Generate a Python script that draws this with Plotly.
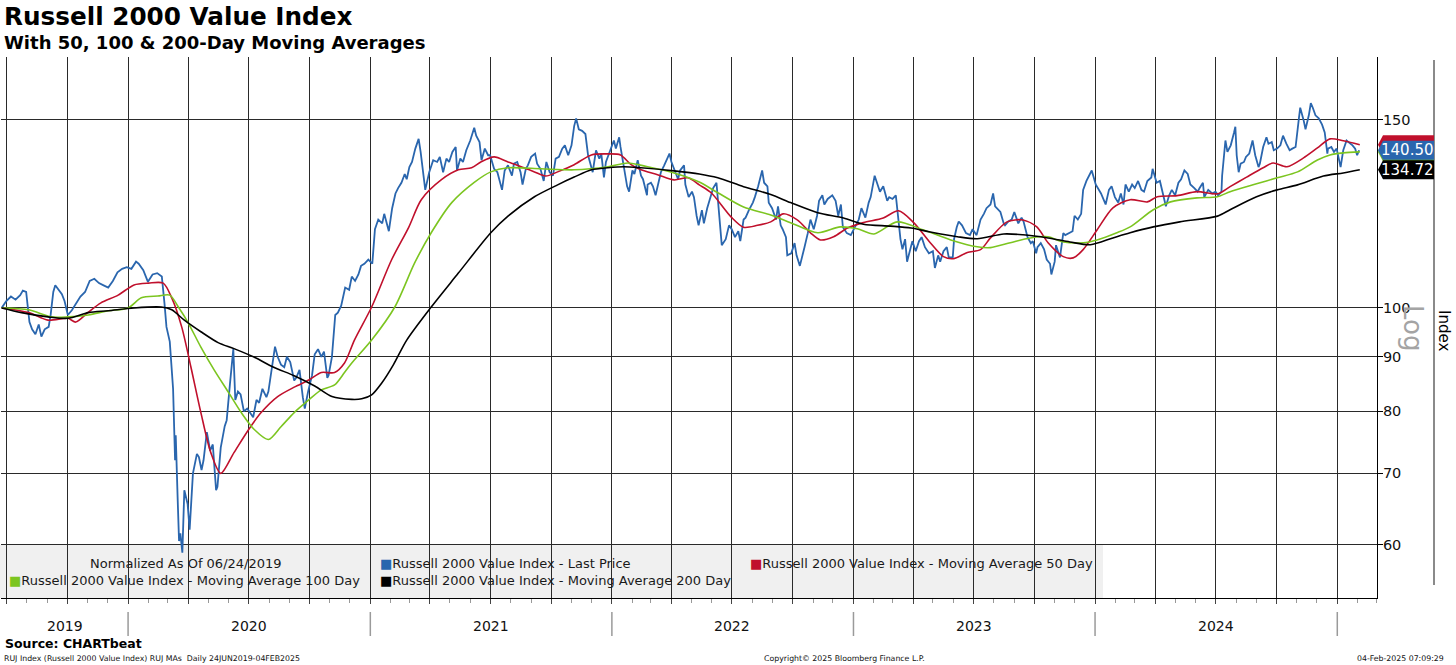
import math
import pandas as pd
import plotly.graph_objects as go

# ---------------- data (normalized to 100 on 06/24/2019) ----------------
price_dates = [
    "2019-06-24", "2019-07-01", "2019-07-08", "2019-07-15", "2019-07-22", "2019-07-26", "2019-07-31",
    "2019-08-05", "2019-08-09", "2019-08-14", "2019-08-19", "2019-08-23", "2019-08-28", "2019-09-03",
    "2019-09-06", "2019-09-10", "2019-09-13", "2019-09-18", "2019-09-23", "2019-09-27", "2019-10-02",
    "2019-10-08", "2019-10-14", "2019-10-21", "2019-10-28", "2019-11-04", "2019-11-11", "2019-11-18",
    "2019-11-25", "2019-12-02", "2019-12-09", "2019-12-16", "2019-12-23", "2019-12-30",
    "2020-01-06", "2020-01-13", "2020-01-17", "2020-01-24", "2020-01-31", "2020-02-07", "2020-02-14",
    "2020-02-21", "2020-02-25", "2020-02-28", "2020-03-04", "2020-03-09", "2020-03-12", "2020-03-13",
    "2020-03-16", "2020-03-18", "2020-03-20", "2020-03-23", "2020-03-26", "2020-03-31", "2020-04-03",
    "2020-04-08", "2020-04-14", "2020-04-17", "2020-04-21", "2020-04-24", "2020-04-29", "2020-05-04",
    "2020-05-08", "2020-05-13", "2020-05-15", "2020-05-20", "2020-05-26", "2020-05-29", "2020-06-03",
    "2020-06-08", "2020-06-11", "2020-06-15", "2020-06-19", "2020-06-24", "2020-06-29", "2020-07-02",
    "2020-07-08", "2020-07-13", "2020-07-17", "2020-07-22", "2020-07-28", "2020-07-31", "2020-08-05",
    "2020-08-10", "2020-08-14", "2020-08-19", "2020-08-24", "2020-08-28", "2020-09-02", "2020-09-08",
    "2020-09-11", "2020-09-16", "2020-09-21", "2020-09-24", "2020-09-29", "2020-10-05", "2020-10-09",
    "2020-10-14", "2020-10-19", "2020-10-23", "2020-10-28", "2020-10-30", "2020-11-04", "2020-11-09",
    "2020-11-13", "2020-11-18", "2020-11-24", "2020-11-30", "2020-12-04", "2020-12-09", "2020-12-14",
    "2020-12-18", "2020-12-23", "2020-12-29",
    "2021-01-04", "2021-01-08", "2021-01-13", "2021-01-19", "2021-01-22", "2021-01-27", "2021-01-29",
    "2021-02-03", "2021-02-08", "2021-02-12", "2021-02-17", "2021-02-22", "2021-02-25", "2021-03-01",
    "2021-03-05", "2021-03-10", "2021-03-15", "2021-03-18", "2021-03-23", "2021-03-25", "2021-03-31",
    "2021-04-06", "2021-04-12", "2021-04-16", "2021-04-21", "2021-04-26", "2021-04-30", "2021-05-05",
    "2021-05-10", "2021-05-12", "2021-05-17", "2021-05-21", "2021-05-26", "2021-06-01", "2021-06-07",
    "2021-06-10", "2021-06-15", "2021-06-18", "2021-06-23", "2021-06-28", "2021-07-01", "2021-07-07",
    "2021-07-12", "2021-07-16", "2021-07-19", "2021-07-23", "2021-07-28", "2021-08-03", "2021-08-06",
    "2021-08-11", "2021-08-16", "2021-08-19", "2021-08-24", "2021-08-27", "2021-09-01", "2021-09-07",
    "2021-09-10", "2021-09-15", "2021-09-20", "2021-09-24", "2021-09-29", "2021-10-04", "2021-10-08",
    "2021-10-13", "2021-10-18", "2021-10-22", "2021-10-27", "2021-11-01", "2021-11-05", "2021-11-08",
    "2021-11-12", "2021-11-17", "2021-11-22", "2021-11-26", "2021-11-30", "2021-12-03", "2021-12-08",
    "2021-12-13", "2021-12-16", "2021-12-20", "2021-12-23", "2021-12-29",
    "2022-01-04", "2022-01-07", "2022-01-12", "2022-01-14", "2022-01-19", "2022-01-24", "2022-01-27",
    "2022-02-01", "2022-02-04", "2022-02-09", "2022-02-14", "2022-02-17", "2022-02-23", "2022-02-24",
    "2022-03-01", "2022-03-04", "2022-03-08", "2022-03-11", "2022-03-16", "2022-03-21", "2022-03-25",
    "2022-03-29", "2022-04-01", "2022-04-06", "2022-04-11", "2022-04-14", "2022-04-20", "2022-04-22",
    "2022-04-27", "2022-05-02", "2022-05-05", "2022-05-09", "2022-05-12", "2022-05-17", "2022-05-20",
    "2022-05-25", "2022-05-31", "2022-06-03", "2022-06-08", "2022-06-13", "2022-06-16", "2022-06-22",
    "2022-06-27", "2022-07-01", "2022-07-06", "2022-07-11", "2022-07-14", "2022-07-19", "2022-07-22",
    "2022-07-27", "2022-08-02", "2022-08-05", "2022-08-10", "2022-08-16", "2022-08-19", "2022-08-24",
    "2022-08-26", "2022-08-31", "2022-09-06", "2022-09-09", "2022-09-13", "2022-09-16", "2022-09-21",
    "2022-09-23", "2022-09-29", "2022-10-04", "2022-10-07", "2022-10-12", "2022-10-14", "2022-10-19",
    "2022-10-24", "2022-10-28", "2022-11-02", "2022-11-07", "2022-11-10", "2022-11-15", "2022-11-18",
    "2022-11-23", "2022-11-30", "2022-12-05", "2022-12-09", "2022-12-13", "2022-12-16", "2022-12-22",
    "2022-12-28",
    "2023-01-04", "2023-01-09", "2023-01-13", "2023-01-19", "2023-01-24", "2023-01-27", "2023-02-02",
    "2023-02-07", "2023-02-10", "2023-02-15", "2023-02-21", "2023-02-24", "2023-03-01", "2023-03-06",
    "2023-03-09", "2023-03-13", "2023-03-16", "2023-03-20", "2023-03-23", "2023-03-28", "2023-03-31",
    "2023-04-05", "2023-04-10", "2023-04-14", "2023-04-19", "2023-04-25", "2023-05-01", "2023-05-04",
    "2023-05-09", "2023-05-12", "2023-05-17", "2023-05-22", "2023-05-25", "2023-05-31", "2023-06-02",
    "2023-06-06", "2023-06-09", "2023-06-14", "2023-06-20", "2023-06-26", "2023-06-30", "2023-07-06",
    "2023-07-12", "2023-07-17", "2023-07-21", "2023-07-27", "2023-07-31", "2023-08-03", "2023-08-08",
    "2023-08-11", "2023-08-16", "2023-08-18", "2023-08-23", "2023-08-28", "2023-09-01", "2023-09-07",
    "2023-09-12", "2023-09-15", "2023-09-21", "2023-09-26", "2023-09-29", "2023-10-04", "2023-10-06",
    "2023-10-11", "2023-10-16", "2023-10-20", "2023-10-25", "2023-10-27", "2023-11-01", "2023-11-03",
    "2023-11-09", "2023-11-14", "2023-11-17", "2023-11-22", "2023-11-28", "2023-12-01", "2023-12-06",
    "2023-12-11", "2023-12-14", "2023-12-19", "2023-12-27",
    "2024-01-02", "2024-01-05", "2024-01-10", "2024-01-17", "2024-01-22", "2024-01-26", "2024-01-31",
    "2024-02-05", "2024-02-09", "2024-02-13", "2024-02-16", "2024-02-21", "2024-02-26", "2024-03-01",
    "2024-03-06", "2024-03-11", "2024-03-15", "2024-03-20", "2024-03-26", "2024-03-28", "2024-04-03",
    "2024-04-08", "2024-04-12", "2024-04-17", "2024-04-22", "2024-04-26", "2024-05-01", "2024-05-06",
    "2024-05-10", "2024-05-15", "2024-05-20", "2024-05-24", "2024-05-30", "2024-06-04", "2024-06-07",
    "2024-06-12", "2024-06-14", "2024-06-20", "2024-06-26", "2024-07-01", "2024-07-05", "2024-07-10",
    "2024-07-11", "2024-07-16", "2024-07-19", "2024-07-24", "2024-07-29", "2024-07-31", "2024-08-02",
    "2024-08-05", "2024-08-08", "2024-08-13", "2024-08-16", "2024-08-21", "2024-08-26", "2024-08-30",
    "2024-09-04", "2024-09-06", "2024-09-11", "2024-09-16", "2024-09-19", "2024-09-24", "2024-09-27",
    "2024-10-02", "2024-10-07", "2024-10-11", "2024-10-16", "2024-10-21", "2024-10-25", "2024-10-30",
    "2024-11-04", "2024-11-06", "2024-11-11", "2024-11-14", "2024-11-19", "2024-11-22", "2024-11-25",
    "2024-11-29", "2024-12-04", "2024-12-09", "2024-12-13", "2024-12-17", "2024-12-18", "2024-12-23",
    "2024-12-27", "2024-12-31",
    "2025-01-06", "2025-01-10", "2025-01-15", "2025-01-21", "2025-01-24", "2025-01-28", "2025-01-31",
    "2025-02-03", "2025-02-04",
]
price_values = [
    100.0, 101.5, 102.5, 101.8, 102.8, 103.8, 103.5,
    97.0, 95.5, 94.5, 96.5, 94.0, 95.5, 96.0,
    98.5, 103.5, 105.0, 104.0, 103.0, 101.5, 98.5,
    99.5, 101.0, 102.5, 103.5, 106.0, 106.5, 105.5,
    105.0, 104.5, 106.0, 108.0, 108.8, 109.2,
    108.8, 110.5, 110.0, 108.5, 105.8, 107.5, 107.8,
    107.0, 101.0, 96.0, 93.0, 84.0, 72.0, 76.0,
    66.0, 60.5, 61.5, 59.0, 67.5, 65.5, 62.0,
    70.0, 73.0, 72.5, 70.5, 72.0, 76.5, 73.5,
    74.5, 67.5, 68.0, 74.0, 77.5, 78.5, 85.0,
    91.5, 82.0, 83.5, 83.0, 80.0, 80.5, 80.0,
    79.0, 82.0, 81.5, 84.0, 82.5, 83.5, 87.5,
    92.0, 90.0, 88.5, 88.0, 90.0, 89.0, 85.5,
    86.0, 87.5, 82.5, 80.5, 83.5, 86.5, 90.5,
    91.5, 90.0, 91.0, 86.0, 86.5, 90.0, 98.5,
    99.0, 100.5, 104.5, 104.0, 107.0, 106.0, 107.5,
    109.5, 110.0, 111.0,
    110.0, 118.5, 121.0, 120.0, 122.5, 119.0, 118.0,
    124.0, 128.0, 129.5, 131.0, 133.5, 132.0, 135.5,
    137.0, 141.0, 144.0, 140.0, 133.0, 129.0, 134.0,
    137.5, 137.0, 138.5, 134.0, 138.0, 137.0, 140.0,
    141.5, 134.5, 138.0, 137.0, 140.5, 143.5, 147.5,
    145.0, 143.0, 137.5, 141.0, 139.0, 139.0, 135.0,
    134.0, 131.5, 129.0, 134.5, 136.0, 133.0, 136.5,
    137.0, 134.0, 130.5, 135.0, 136.0, 138.5, 139.5,
    136.5, 135.0, 131.5, 137.0, 134.0, 133.0, 138.0,
    138.5, 141.0, 142.0, 139.0, 142.0, 148.0, 150.5,
    147.0, 146.5, 145.5, 139.0, 136.0, 134.0, 140.5,
    138.0, 139.5, 132.5, 137.0, 140.0,
    143.5, 141.0, 144.5, 141.5, 136.0, 130.0, 128.5,
    134.5, 133.5, 137.5, 133.0, 132.0, 127.5, 130.5,
    131.0, 130.0, 127.5, 130.0, 134.0, 136.0, 137.5,
    139.5, 137.0, 134.5, 132.0, 134.5, 136.0, 130.5,
    127.0, 128.5, 127.0, 122.0, 119.5, 123.5, 120.0,
    124.0, 127.5, 129.5, 131.0, 119.5, 114.5, 116.0,
    119.5, 118.5, 116.5, 118.0, 115.5, 121.0, 121.5,
    123.5, 125.5, 127.0, 130.0, 134.5, 131.0, 130.0,
    125.5, 124.0, 121.0, 124.5, 119.5, 118.5, 116.5,
    112.0, 112.5, 115.0, 112.0, 109.5, 111.0, 114.0,
    117.5, 121.0, 118.5, 122.0, 126.0, 127.5, 125.0,
    126.5, 127.5, 126.0, 122.0, 125.0, 119.0, 117.5,
    117.0,
    119.5, 121.0, 124.0, 121.5, 125.5, 127.0, 133.0,
    130.5, 128.5, 130.0, 126.0, 127.0, 126.5, 127.5,
    121.5, 116.0, 113.5, 116.0, 110.5, 114.0, 115.5,
    113.0, 115.5, 116.5, 114.0, 112.5, 113.0, 109.0,
    112.0, 110.5, 113.0, 114.0, 111.5, 111.5, 116.0,
    119.0, 120.5, 119.5, 117.5, 117.0, 118.5, 117.0,
    121.0, 122.5, 124.0, 125.0, 128.0, 124.5, 123.5,
    123.0, 120.0, 119.5, 120.5, 121.0, 123.0, 120.0,
    121.5, 120.5, 116.5, 115.0, 115.5, 112.5, 114.0,
    115.0, 113.5, 111.0, 110.0, 107.5, 110.5, 114.5,
    111.5, 117.5, 117.0, 117.5, 118.0, 122.0, 121.0,
    122.5, 129.0, 131.5, 134.5,
    130.5, 129.5, 128.0, 125.0, 129.0, 130.0, 127.0,
    125.5, 128.0, 125.0, 130.5, 128.5, 130.5, 129.5,
    131.5, 129.0, 128.5, 131.5, 132.5, 135.0, 131.0,
    131.5, 128.5, 124.5, 127.5, 129.0, 127.5, 131.0,
    132.0, 134.5, 133.5, 130.5, 129.5, 128.5, 129.5,
    131.0, 127.0, 129.0, 128.0, 128.5, 127.5, 128.5,
    133.0, 143.5, 140.0, 142.0, 146.0, 147.8, 139.0,
    134.0, 136.5, 137.0, 138.5, 139.5, 143.5, 139.0,
    135.5, 136.5, 141.5, 144.5, 142.5, 143.0, 140.5,
    141.0, 142.0, 145.0, 142.5, 140.5, 141.0, 141.5,
    150.5, 154.0, 150.0, 147.0, 151.5, 155.5, 154.0,
    151.5, 150.5, 148.5, 146.0, 139.5, 141.0, 141.5,
    140.0,
    141.0, 135.5, 140.5, 143.5, 142.5, 142.0, 141.0,
    139.0, 140.5,
]

ma50_dates = [
    "2019-06-24", "2019-08-04", "2019-09-02", "2019-10-02", "2019-10-14", "2019-11-02", "2019-11-21",
    "2019-12-17", "2020-01-10", "2020-02-01", "2020-02-23", "2020-03-07", "2020-03-22", "2020-04-05",
    "2020-04-20", "2020-05-05", "2020-05-20", "2020-06-09", "2020-07-01", "2020-07-20", "2020-08-14",
    "2020-09-08", "2020-09-30", "2020-10-19", "2020-11-08", "2020-11-23", "2020-12-08", "2021-01-03",
    "2021-02-02", "2021-02-28", "2021-03-19", "2021-04-18", "2021-05-14", "2021-06-03", "2021-06-17",
    "2021-07-07", "2021-07-28", "2021-08-17", "2021-09-06", "2021-09-23", "2021-10-11", "2021-11-05",
    "2021-12-01", "2021-12-26", "2022-01-14", "2022-01-30", "2022-02-14", "2022-03-11", "2022-04-05",
    "2022-04-26", "2022-05-13", "2022-05-31", "2022-06-30", "2022-07-19", "2022-08-09", "2022-08-29",
    "2022-09-17", "2022-10-08", "2022-10-28", "2022-11-12", "2022-12-02", "2022-12-23", "2023-01-16",
    "2023-02-15", "2023-03-10", "2023-04-02", "2023-04-27", "2023-05-17", "2023-06-01", "2023-06-22",
    "2023-07-12", "2023-07-27", "2023-08-21", "2023-09-14", "2023-10-05", "2023-10-22", "2023-11-14",
    "2023-11-29", "2023-12-14", "2024-01-04", "2024-01-28", "2024-02-23", "2024-03-20", "2024-04-04",
    "2024-05-04", "2024-06-03", "2024-07-04", "2024-07-23", "2024-08-17", "2024-09-11", "2024-09-26",
    "2024-10-17", "2024-11-11", "2024-12-02", "2024-12-21", "2025-01-10", "2025-02-04",
]
ma50_values = [
    100.0, 99.0, 97.4, 97.8, 97.0, 99.1, 101.1,
    102.8, 105.1, 105.5, 105.5, 102.2, 96.0, 88.0,
    79.8, 73.2, 70.0, 73.2, 76.9, 79.8, 82.6,
    84.3, 85.6, 87.0, 87.0, 88.8, 93.3, 100.2,
    110.9, 119.0, 126.3, 131.8, 134.7, 135.3, 137.0,
    138.5, 137.0, 135.6, 134.1, 132.9, 134.1, 136.2,
    139.1, 139.4, 139.1, 136.2, 134.7, 133.3, 131.8,
    132.4, 130.4, 128.2, 121.7, 119.0, 119.5, 120.4,
    122.5, 120.9, 117.6, 115.8, 116.6, 118.8, 120.2,
    121.4, 123.3, 120.2, 115.1, 111.7, 111.2, 112.7,
    113.4, 116.3, 120.4, 120.9, 119.1, 115.1, 111.7,
    111.4, 113.4, 118.3, 124.1, 126.3, 125.7, 127.1,
    127.4, 128.5, 127.9, 129.9, 132.6, 135.3, 136.7,
    135.6, 138.2, 141.2, 144.0, 143.4, 142.2,
]

ma100_dates = [
    "2019-06-24", "2019-08-04", "2019-09-07", "2019-10-02", "2019-11-02", "2019-12-02", "2020-01-01",
    "2020-01-21", "2020-02-15", "2020-03-04", "2020-03-17", "2020-04-01", "2020-04-20", "2020-05-10",
    "2020-06-01", "2020-06-20", "2020-07-10", "2020-07-31", "2020-08-19", "2020-09-08", "2020-09-30",
    "2020-10-19", "2020-11-08", "2020-11-23", "2020-12-04", "2021-01-03", "2021-02-07", "2021-03-09",
    "2021-04-03", "2021-05-04", "2021-06-07", "2021-07-02", "2021-07-28", "2021-09-16", "2021-11-05",
    "2021-12-26", "2022-01-25", "2022-02-24", "2022-04-05", "2022-05-13", "2022-06-10", "2022-07-19",
    "2022-08-29", "2022-09-28", "2022-11-08", "2022-12-12", "2023-01-07", "2023-02-01", "2023-03-08",
    "2023-04-17", "2023-05-28", "2023-07-07", "2023-07-27", "2023-08-26", "2023-09-25", "2023-10-22",
    "2023-11-14", "2023-12-14", "2024-01-04", "2024-02-03", "2024-02-23", "2024-03-29", "2024-04-24",
    "2024-06-03", "2024-07-04", "2024-07-23", "2024-09-01", "2024-10-02", "2024-11-02", "2024-12-02",
    "2024-12-21", "2025-01-10", "2025-02-04",
]
ma100_values = [
    100.0, 99.6, 98.1, 98.1, 98.5, 99.4, 100.0,
    102.2, 102.6, 102.8, 100.2, 96.8, 91.9, 87.5,
    83.3, 79.8, 76.9, 75.3, 77.4, 79.8, 82.0,
    83.8, 84.7, 87.0, 88.8, 93.3, 100.2, 110.2,
    117.6, 125.5, 131.1, 134.1, 135.3, 135.0, 134.7,
    135.6, 136.7, 135.6, 133.8, 131.2, 128.2, 124.3,
    122.2, 120.2, 117.6, 119.1, 118.6, 117.3, 120.4,
    118.3, 115.8, 114.1, 113.9, 115.1, 116.3, 116.6,
    115.3, 115.1, 115.8, 117.6, 119.1, 123.6, 125.7,
    126.8, 127.1, 128.5, 130.7, 132.4, 134.1, 137.6,
    139.1, 139.7, 140.0,
]

ma200_dates = [
    "2019-06-24", "2019-07-24", "2019-09-02", "2019-10-02", "2019-11-02", "2019-12-02", "2020-01-10",
    "2020-02-20", "2020-03-07", "2020-03-26", "2020-04-20", "2020-05-16", "2020-06-09", "2020-07-10",
    "2020-08-08", "2020-09-08", "2020-10-09", "2020-11-04", "2020-12-04", "2020-12-19", "2021-01-03",
    "2021-01-18", "2021-02-05", "2021-02-25", "2021-04-03", "2021-05-14", "2021-07-02", "2021-07-28",
    "2021-09-06", "2021-10-11", "2021-11-05", "2021-12-01", "2021-12-26", "2022-01-19", "2022-02-14",
    "2022-04-05", "2022-05-13", "2022-06-10", "2022-07-19", "2022-08-29", "2022-09-28", "2022-11-08",
    "2022-12-17", "2023-01-16", "2023-02-26", "2023-03-29", "2023-04-27", "2023-06-07", "2023-07-07",
    "2023-08-16", "2023-09-14", "2023-10-22", "2023-11-24", "2023-12-25", "2024-01-28", "2024-02-23",
    "2024-03-29", "2024-05-08", "2024-07-04", "2024-07-23", "2024-09-01", "2024-10-02", "2024-11-02",
    "2024-12-11", "2025-01-10", "2025-02-04",
]
ma200_values = [
    100.0, 99.0, 98.1, 97.8, 99.0, 99.4, 100.0,
    100.2, 99.6, 97.4, 95.0, 92.8, 91.6, 89.9,
    88.0, 86.4, 84.5, 82.6, 82.1, 82.2, 82.9,
    85.0, 88.5, 93.3, 100.2, 107.8, 117.6, 121.9,
    127.1, 130.4, 132.6, 134.7, 135.3, 135.6, 135.3,
    134.4, 133.5, 132.4, 129.9, 127.7, 125.5, 122.8,
    121.4, 119.8, 119.3, 118.8, 117.8, 116.6, 116.1,
    117.3, 117.1, 116.3, 115.3, 114.6, 116.3, 117.6,
    119.1, 120.4, 121.9, 123.6, 127.1, 129.0, 130.4,
    132.9, 133.8, 134.72,
]

y_tick_values = [60, 70, 80, 90, 100, 150]
year_labels = ["2019", "2020", "2021", "2022", "2023", "2024"]
year_label_dates = ["2019-09-28", "2020-07-01", "2021-07-02", "2022-07-02", "2023-07-02", "2024-07-01"]
year_boundaries = ["2020-01-01", "2021-01-01", "2022-01-01", "2023-01-01", "2024-01-01", "2025-01-01"]

legend_names = [
    "Russell 2000 Value Index - Last Price",
    "Russell 2000 Value Index - Moving Average 50 Day",
    "Russell 2000 Value Index - Moving Average 100 Day",
    "Russell 2000 Value Index - Moving Average 200 Day",
]

# ---------------- style ----------------
BLUE = "#2a66ae"
RED = "#c0102c"
GREEN = "#7cc520"
BLACK = "#000000"
FONT = "DejaVu Sans"

W, H = 1456, 665
ML, MR, MT, MB = 1, 79, 57, 67
PW, PH = W - ML - MR, H - MT - MB
Y_RANGE = [math.log10(53.5), math.log10(171.8)]


def px(xp):
    return (xp - ML) / PW


def py(yp):
    return (H - MB - yp) / PH


def value_to_paper(v):
    return (math.log10(v) - Y_RANGE[0]) / (Y_RANGE[1] - Y_RANGE[0])


quarter_starts = [d.strftime("%Y-%m-%d") for d in pd.date_range("2019-07-01", "2025-01-01", freq="QS")]

fig = go.Figure()
fig.add_trace(go.Scatter(x=price_dates, y=price_values, mode="lines", name=legend_names[0],
                         line=dict(color=BLUE, width=1.8)))
fig.add_trace(go.Scatter(x=ma50_dates, y=ma50_values, mode="lines", name=legend_names[1],
                         line=dict(color=RED, width=1.6, shape="spline", smoothing=0.8)))
fig.add_trace(go.Scatter(x=ma100_dates, y=ma100_values, mode="lines", name=legend_names[2],
                         line=dict(color=GREEN, width=1.6, shape="spline", smoothing=0.8)))
fig.add_trace(go.Scatter(x=ma200_dates, y=ma200_values, mode="lines", name=legend_names[3],
                         line=dict(color=BLACK, width=1.6, shape="spline", smoothing=0.8)))

shapes = []
annotations = []

# legend background
shapes.append(dict(type="rect", xref="paper", yref="paper", x0=px(0), x1=px(1103),
                   y0=py(545), y1=0, fillcolor="#f0f0f0", line=dict(width=0), layer="below"))

# year separators under the axis
for d in year_boundaries:
    shapes.append(dict(type="line", xref="x", yref="paper", x0=d, x1=d, y0=py(612), y1=py(636),
                       line=dict(color="#9a9a9a", width=1.5)))

# right vertical rule
shapes.append(dict(type="line", xref="paper", yref="paper", x0=px(1434), x1=px(1434),
                   y0=py(60), y1=py(585), line=dict(color="#8a8a8a", width=2)))

# last-value tags (red & green behind, then blue & black)
tag_path = "M1,0 L6,-9.5 L57,-9.5 L57,9.5 L6,9.5 Z"
last_tags = [
    (ma50_values[-1], RED, None),
    (ma100_values[-1], GREEN, None),
    (price_values[-1], BLUE, f"{price_values[-1]:.2f}"),
    (ma200_values[-1], BLACK, f"{ma200_values[-1]:.2f}"),
]
for val, col, label in last_tags:
    yp = value_to_paper(val)
    shapes.append(dict(type="path", xref="paper", yref="paper", xsizemode="pixel", ysizemode="pixel",
                       xanchor=1.0, yanchor=yp, path=tag_path,
                       fillcolor=col, line=dict(width=0), layer="above"))
    if label:
        annotations.append(dict(xref="paper", yref="paper", x=px(1407), y=yp, text=label,
                                showarrow=False, xanchor="center", yanchor="middle",
                                font=dict(family=FONT, size=15, color="white")))

# titles
annotations.append(dict(xref="paper", yref="paper", x=px(2), y=py(17), text="<b>Russell 2000 Value Index</b>",
                        showarrow=False, xanchor="left", yanchor="middle",
                        font=dict(family=FONT, size=24.7, color="#000")))
annotations.append(dict(xref="paper", yref="paper", x=px(2), y=py(43),
                        text="<b>With 50, 100 &amp; 200-Day Moving Averages</b>",
                        showarrow=False, xanchor="left", yanchor="middle",
                        font=dict(family=FONT, size=18, color="#000")))

# legend texts
leg_font = dict(family=FONT, size=13, color="#1a1a1a")
annotations.append(dict(xref="paper", yref="paper", x=px(186), y=py(563), text="Normalized As Of 06/24/2019",
                        showarrow=False, xanchor="center", yanchor="middle", font=leg_font))
legend_items = [
    (378, 563, BLUE, legend_names[0]),
    (748, 563, RED, legend_names[1]),
    (7, 580, GREEN, legend_names[2]),
    (378, 580, BLACK, legend_names[3]),
]
for xp, yp, col, name in legend_items:
    annotations.append(dict(xref="paper", yref="paper", x=px(xp), y=py(yp),
                            text=f'<span style="color:{col}">■</span>{name}',
                            showarrow=False, xanchor="left", yanchor="middle", font=leg_font))

# year labels
for d, lab in zip(year_label_dates, year_labels):
    annotations.append(dict(xref="x", yref="paper", x=d, y=py(626), text=lab, showarrow=False,
                            xanchor="center", yanchor="middle",
                            font=dict(family=FONT, size=14, color="#111")))

# right side texts
annotations.append(dict(xref="paper", yref="paper", x=px(1413), y=py(328), text="Log", textangle=90,
                        showarrow=False, xanchor="center", yanchor="middle",
                        font=dict(family=FONT, size=26, color="#a4a4a4")))
annotations.append(dict(xref="paper", yref="paper", x=px(1444), y=py(330), text="Index", textangle=90,
                        showarrow=False, xanchor="center", yanchor="middle",
                        font=dict(family=FONT, size=15, color="#000")))

# footer
annotations.append(dict(xref="paper", yref="paper", x=px(3), y=py(643), text="<b>Source: CHARTbeat</b>",
                        showarrow=False, xanchor="left", yanchor="middle",
                        font=dict(family=FONT, size=12.5, color="#000")))
small = dict(family=FONT, size=7.8, color="#111")
annotations.append(dict(xref="paper", yref="paper", x=px(2), y=py(658),
                        text="RUJ Index (Russell 2000 Value Index) RUJ MAs  Daily 24JUN2019-04FEB2025",
                        showarrow=False, xanchor="left", yanchor="middle", font=small))
annotations.append(dict(xref="paper", yref="paper", x=px(844), y=py(658),
                        text="Copyright© 2025 Bloomberg Finance L.P.",
                        showarrow=False, xanchor="center", yanchor="middle", font=small))
annotations.append(dict(xref="paper", yref="paper", x=px(1446), y=py(658), text="04-Feb-2025 07:09:29",
                        showarrow=False, xanchor="right", yanchor="middle", font=small))

fig.update_layout(
    width=W, height=H, autosize=False,
    margin=dict(l=ML, r=MR, t=MT, b=MB, pad=0),
    paper_bgcolor="white", plot_bgcolor="white",
    showlegend=False,
    shapes=shapes, annotations=annotations,
    xaxis=dict(
        type="date", range=["2019-06-23", "2025-03-02"],
        tickmode="array", tickvals=quarter_starts, showticklabels=False,
        showgrid=True, gridcolor="#2a2a2a", gridwidth=1,
        ticks="outside", ticklen=5, tickcolor="#444",
        minor=dict(dtick="M1", tick0="2019-07-01", ticks="outside", ticklen=4, tickcolor="#999",
                   showgrid=False),
        showline=True, linecolor="#000", linewidth=1, zeroline=False, fixedrange=True,
    ),
    yaxis=dict(
        type="log", side="right",
        range=Y_RANGE,
        tickmode="array", tickvals=y_tick_values, ticktext=[str(v) for v in y_tick_values],
        showgrid=True, gridcolor="#2a2a2a", gridwidth=1,
        ticks="outside", ticklen=5, tickcolor="#000", ticklabelstandoff=-3,
        tickfont=dict(family=FONT, size=14.5, color="#111"),
        showline=True, linecolor="#000", linewidth=1, zeroline=False, fixedrange=True,
    ),
)

fig.write_html("out.html", config={"displayModeBar": False},
               post_script="document.body.style.margin='0';")
